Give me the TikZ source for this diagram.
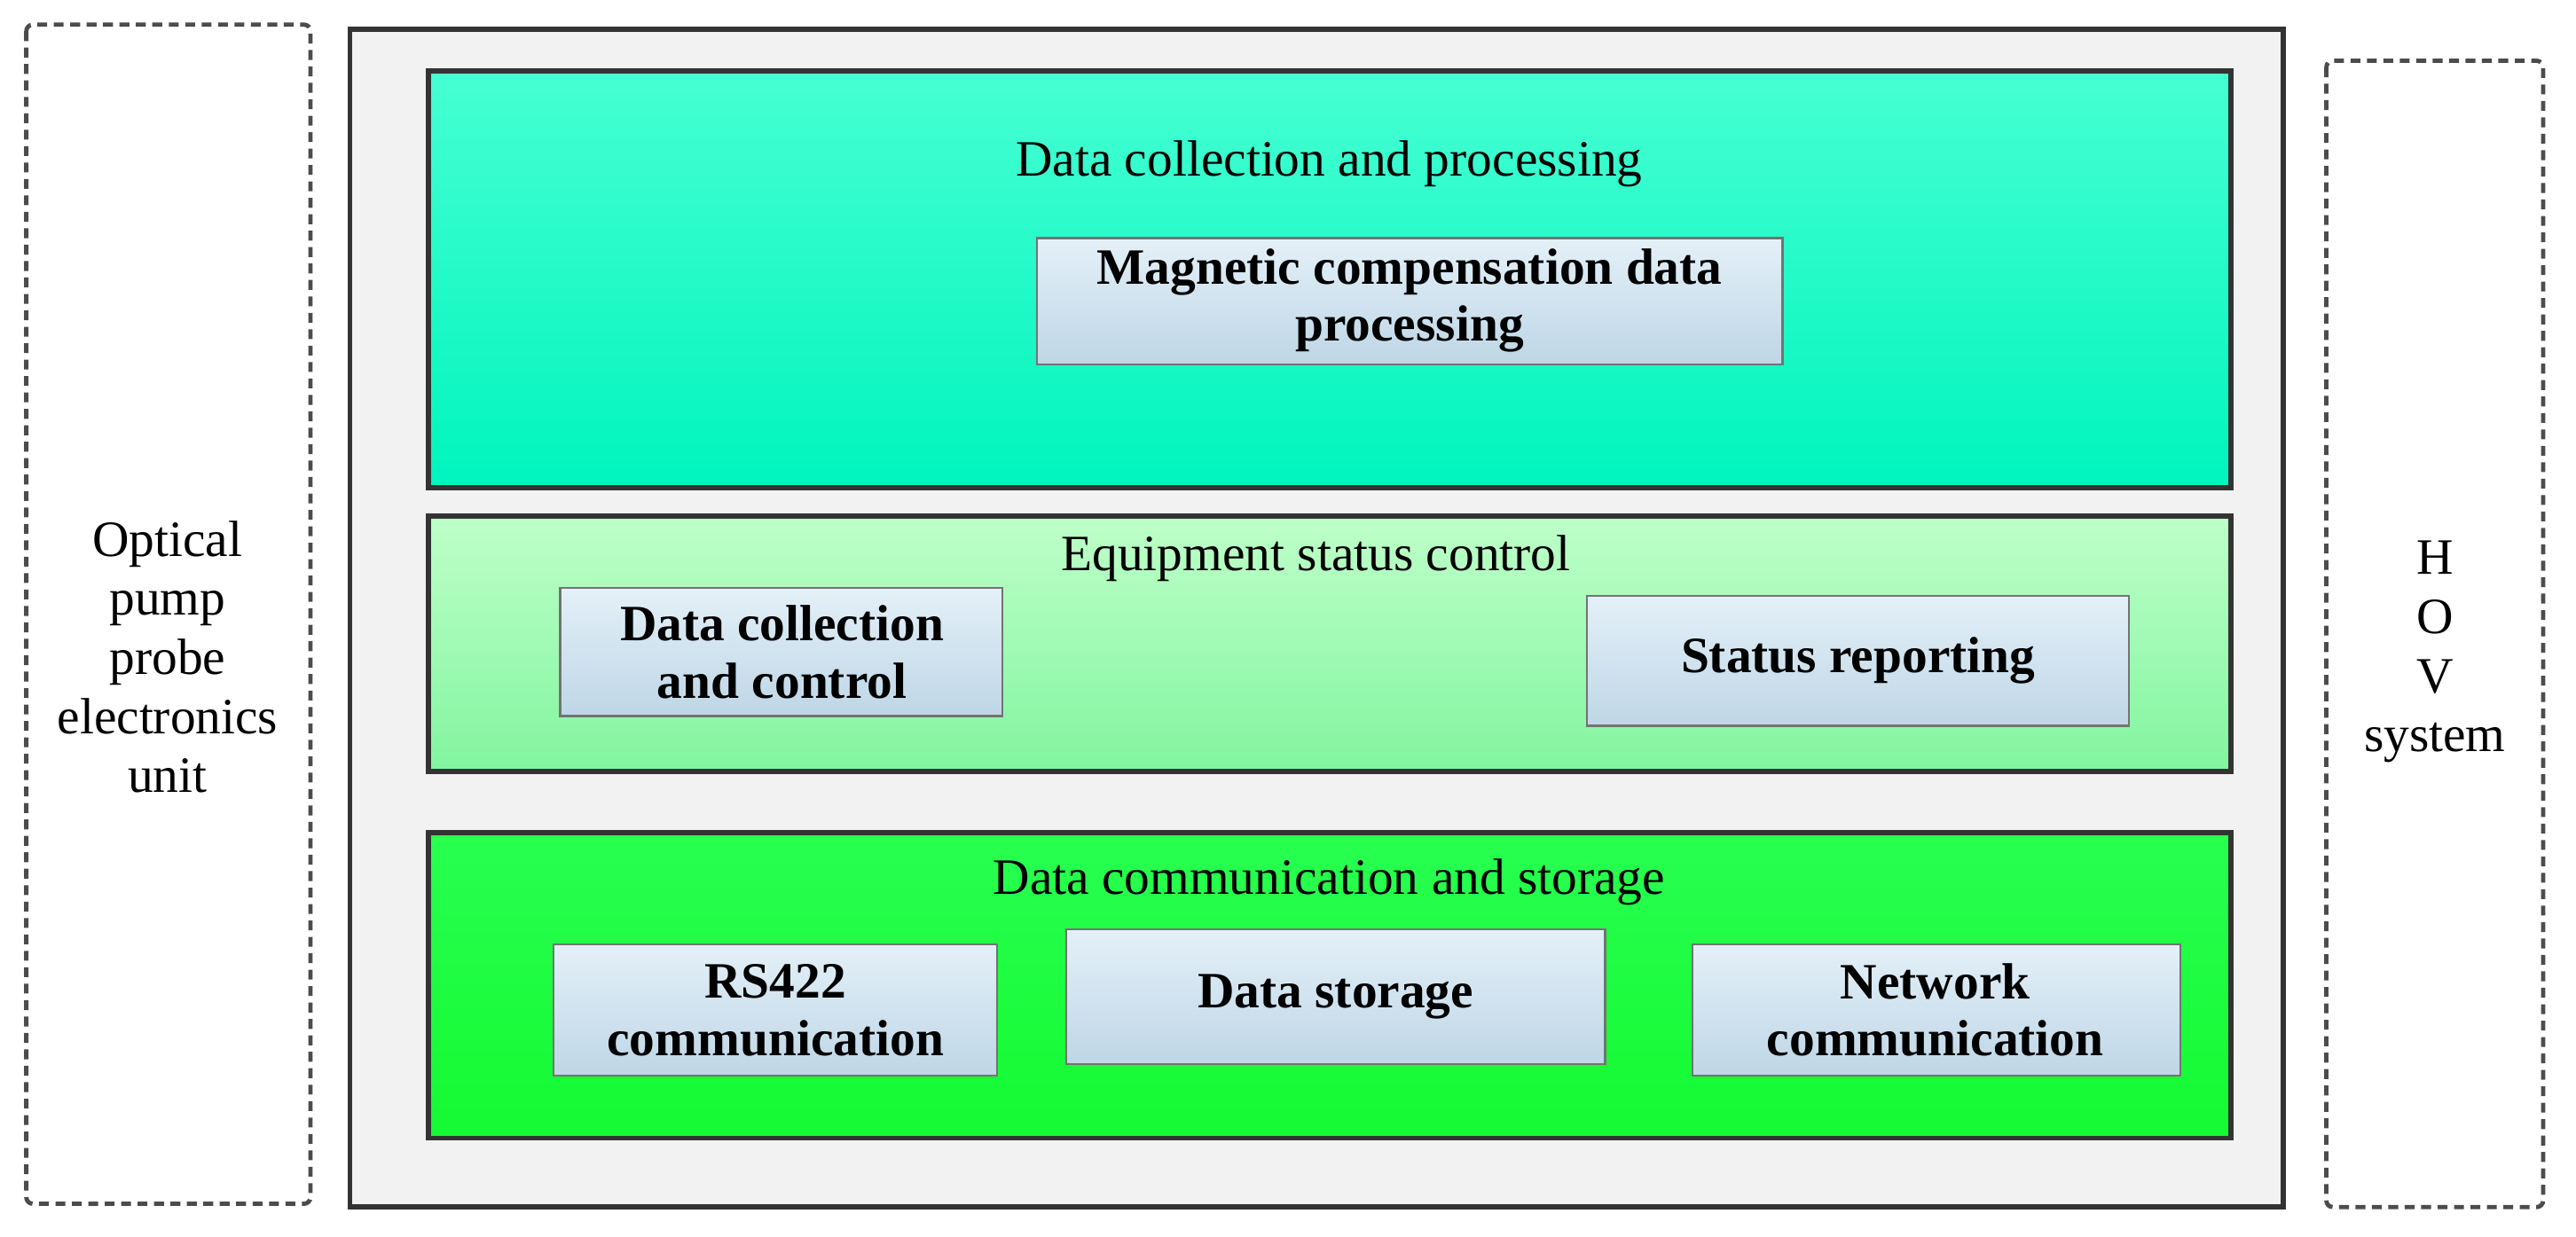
\documentclass[tikz,border=0pt]{standalone}
\usepackage{fontspec}
\setmainfont{Liberation Serif}
\begin{document}
\begin{tikzpicture}[x=0.5pt,y=-0.5pt,
  dashbox/.style={draw=black!70,line width=1.3pt,dash pattern=on 3pt off 2pt,rounded corners=2pt},
  layer/.style={draw=black!80,line width=1.6pt},
  sub/.style={draw=black!55,line width=0.6pt,top color={rgb,255:red,228;green,240;blue,248},bottom color={rgb,255:red,190;green,214;blue,230}},
  ttl/.style={font=\fontsize{15.5}{18}\selectfont},
  btx/.style={font=\bfseries\fontsize{15.5}{17.5}\selectfont,align=center}]
\useasboundingbox (0,0) rectangle (1568,753);
% side boxes
\draw[dashbox] (16,15) rectangle (189,733);
\node[ttl,align=center] (opt) at (102,400) {Optical\\pump\\probe\\electronics\\unit};
\draw[dashbox] (1416,37) rectangle (1548,735);
\node[ttl,align=center] (hov) at (1482,397) {H\\O\\V\\system};
% outer
\draw[draw=black!80,line width=1.6pt,fill=black!5] (213,18) rectangle (1390,735);
% top layer
\fill[top color={rgb,255:red,70;green,255;blue,210},bottom color={rgb,255:red,0;green,245;blue,190}] (262,44) rectangle (1357,296);
\draw[layer] (261,43) rectangle (1358,297);
\node[ttl] (t1) at (809,100) {Data collection and processing};
\draw[sub] (631,145) rectangle (1085,222);
\node[btx] (mag) at (858,183) {Magnetic compensation data\\processing};
% middle layer
\fill[top color={rgb,255:red,190;green,255;blue,200},bottom color={rgb,255:red,130;green,245;blue,160}] (262,315) rectangle (1357,469);
\draw[layer] (261,314) rectangle (1358,470);
\node[ttl] (t2) at (801,340) {Equipment status control};
\draw[sub] (341,358) rectangle (610,436);
\node[btx] (dcc) at (476,397) {Data collection\\and control};
\draw[sub] (966,363) rectangle (1296,442);
\node[btx] (sr) at (1131,402) {Status reporting};
% bottom layer
\fill[top color={rgb,255:red,40;green,255;blue,80},bottom color={rgb,255:red,20;green,250;blue,50}] (262,508) rectangle (1357,692);
\draw[layer] (261,507) rectangle (1358,693);
\node[ttl] (t3) at (809,537) {Data communication and storage};
\draw[sub] (337,575) rectangle (607,655);
\node[btx] (rs) at (472,615) {RS422\\communication};
\draw[sub] (649,566) rectangle (977,648);
\node[btx] (ds) at (813,607) {Data storage};
\draw[sub] (1030,575) rectangle (1327,655);
\node[btx] (nc) at (1178,615) {Network\\communication};
\end{tikzpicture}
\end{document}
